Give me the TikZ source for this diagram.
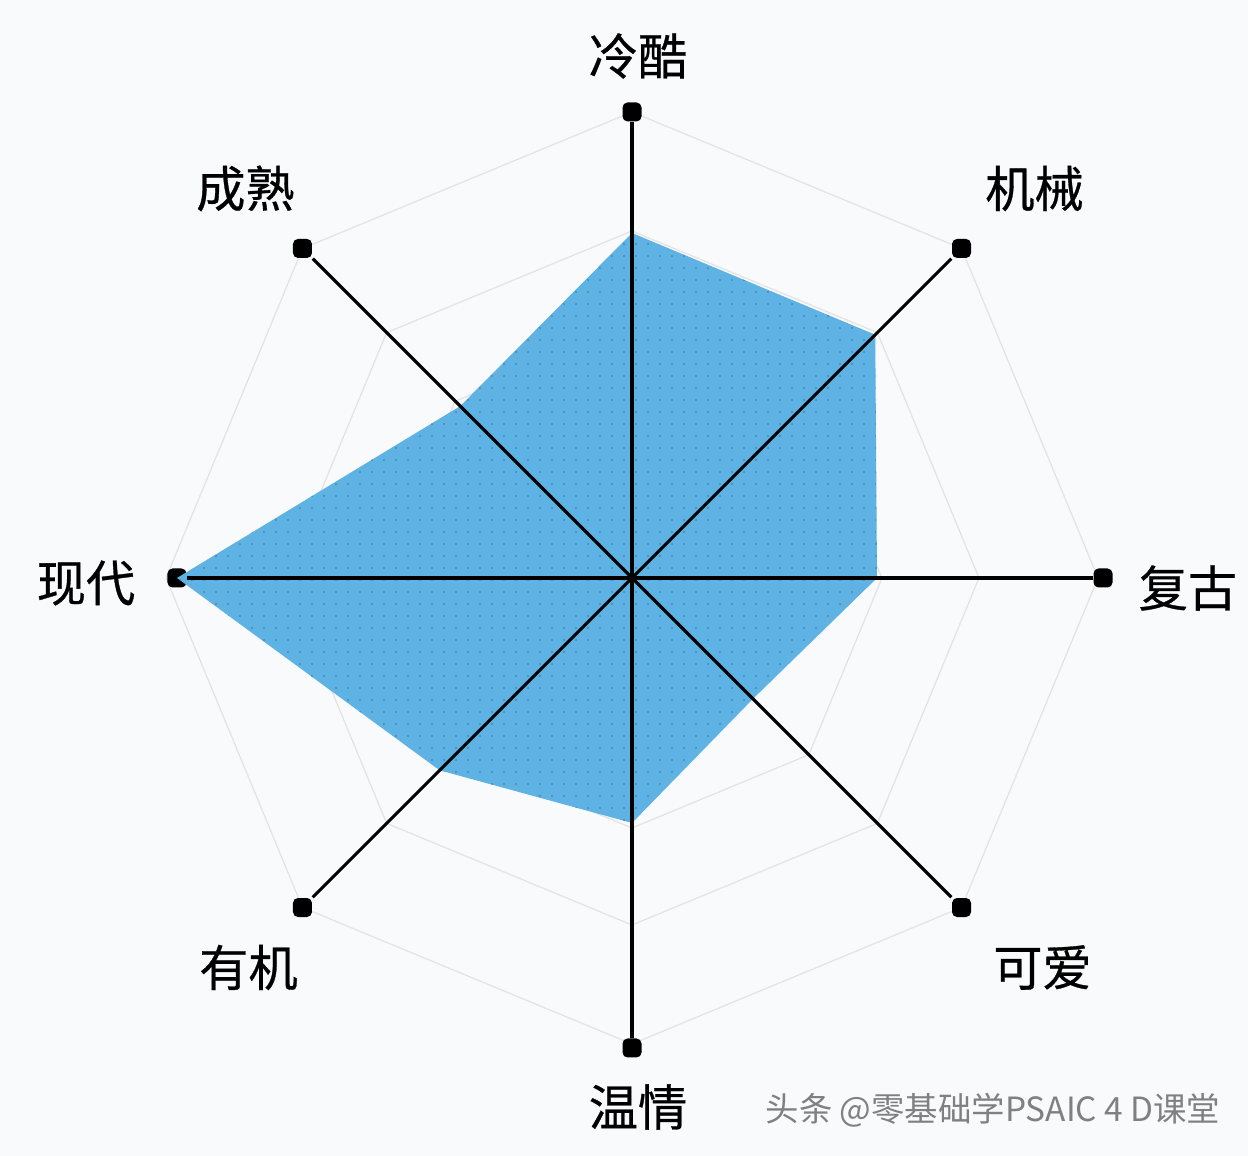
\documentclass[tikz,border=0pt]{standalone}
\usepackage{fontspec}
\newfontfamily\cjk[FakeBold=0.6]{Noto Sans CJK SC}
\newfontfamily\cjkw{Noto Sans CJK SC}
\usepackage{tikz}
\usetikzlibrary{patterns.meta}
\definecolor{flaeche}{RGB}{94,178,228}
\definecolor{hg}{RGB}{249,250,252}

\begin{document}
\begin{tikzpicture}[
		pt/.style={fill=black,rounded corners=0.5mm,minimum size=1.9mm,inner sep=0pt},
		lab/.style={font=\cjk\fontsize{14}{16}\selectfont,inner sep=0pt},
		netz/.style={draw=gray!22,line width=0.35pt},
		achse/.style={line width=0.9pt}]
		%Hintergrund
		\fill[hg] (-6.32,-5.78) rectangle (6.16,5.78);
		
		%Netz
		\foreach \r in {2.5,3.47,4.66}
		\draw[netz] (90:\r) -- (45:\r) -- (0:\r) -- (-45:\r) -- (-90:\r) -- (-135:\r) -- (180:\r) -- (135:\r) -- cycle;
		
		%Endpunkte mit Beschriftung
		\coordinate (M) at (0,0);
		\node[pt, label={[lab,shift={(0.06,0.56)}]center:冷酷}] (A) at (90:4.66) {};
		\node[pt, label={[lab,shift={(0.73,0.60)}]center:机械}] (B) at (45:4.66) {};
		\node[pt, label={[lab,shift={(0.85,-0.10)}]center:复古}] (C) at (0:4.71) {};
		\node[pt, label={[lab,shift={(0.81,-0.60)}]center:可爱}] (D) at (-45:4.66) {};
		\node[pt, label={[lab,shift={(0.06,-0.59)}]center:温情}] (E) at (-90:4.70) {};
		\node[pt, label={[lab,shift={(-0.54,-0.60)}]center:有机}] (F) at (-135:4.66) {};
		\node[pt, label={[lab,shift={(-0.91,-0.05)}]center:现代}] (G) at (180:4.55) {};
		\node[pt, label={[lab,shift={(-0.57,0.60)}]center:成熟}] (H) at (135:4.66) {};
		
		%Werte
		\path[preaction={fill=flaeche},pattern={Dots[distance=1.2mm,radius=0.25pt]},pattern color=flaeche!65!black]
		(90:3.45) -- (45:3.44) -- (0:2.45) -- (-45:1.71) -- (-90:2.45) -- (-135:2.72) -- (G.center) -- (135:2.43) -- cycle;
		
		%Achsen
		\foreach \P in {A,B,C,D,E,F,G,H}
		\draw[achse] (M) -- (\P);
		
		\node[font=\cjkw\fontsize{9.5}{11}\selectfont,text=black!50] (W) at (3.61,-5.32) {头条 @零基础学PSAIC 4 D课堂};
		
\end{tikzpicture}
\end{document}
